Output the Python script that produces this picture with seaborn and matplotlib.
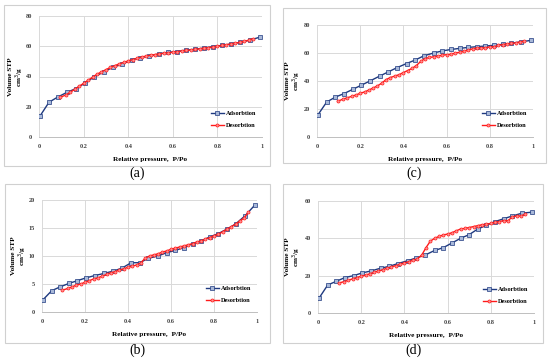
import numpy as np
import pandas as pd
import matplotlib
matplotlib.use("Agg")
import matplotlib.pyplot as plt
import seaborn as sns
from matplotlib.patches import Rectangle

# adsorption branches (same pressure grid for all samples)
p_ads = [0.005, 0.045, 0.085, 0.125, 0.165, 0.205, 0.245, 0.29, 0.33, 0.37, 0.415, 0.455,
         0.495, 0.54, 0.58, 0.62, 0.66, 0.70, 0.74, 0.78, 0.82, 0.86, 0.90, 0.945, 0.99]
ads_a = [14, 23, 26.5, 29.5, 32, 35.5, 39.5, 43, 46, 48, 51, 52.5, 53.5, 55, 56, 56.5,
         57.5, 58, 58.8, 59.8, 60.5, 61.5, 62.5, 64, 66]
ads_c = [16, 25, 28.5, 31, 34, 37, 40, 43.5, 46.5, 49.5, 52.5, 55, 58, 60, 61.5, 62.5,
         63.3, 64, 64.5, 65, 65.5, 66.2, 67, 68, 69]
ads_b = [2.2, 3.8, 4.5, 5.1, 5.6, 6.1, 6.5, 6.9, 7.3, 7.8, 8.8, 8.8, 9.6, 10, 10.6, 11,
         11.5, 12.2, 12.7, 13.4, 14, 14.8, 15.7, 17.2, 19.1]
ads_d = [8, 15, 17, 19, 20, 21.5, 22.5, 24, 25, 26.5, 28, 29.5, 31, 33.5, 35, 37.5, 40,
         42, 45, 47, 49, 50.5, 52, 53.5, 54]

# desorption branches
p_des = [0.095, 0.12, 0.14, 0.16, 0.18, 0.20, 0.22, 0.24, 0.26, 0.28, 0.30, 0.32, 0.34,
         0.36, 0.38, 0.40, 0.42, 0.44, 0.46, 0.48, 0.50, 0.52, 0.54, 0.56, 0.58, 0.60,
         0.62, 0.64, 0.66, 0.68, 0.70, 0.72, 0.74, 0.76, 0.78, 0.80, 0.82, 0.84, 0.86,
         0.88, 0.90, 0.92, 0.94, 0.96]
des_a = [26.2, 27.8, 29.5, 31.5, 33.5, 35.5, 37.5, 39.5, 41.5, 43, 44.5, 46, 47.2, 48.3,
         49.3, 50.3, 51.2, 52, 52.8, 53.5, 54, 54.5, 55, 55.3, 55.7, 56, 56.4, 56.8, 57.2,
         57.5, 57.9, 58.3, 58.7, 59.1, 59.5, 60, 60.5, 61, 61.5, 62, 62.6, 63.2, 64, 65]
des_c = [25.5, 27, 28, 29, 30, 31.2, 32.2, 33.5, 35, 36.5, 38.5, 41, 42.5, 43.5, 44.5,
         46, 47.5, 49, 51, 54, 56, 56.8, 57.3, 57.8, 58.5, 58.8, 59, 60, 60.5, 61.2, 62,
         63, 63.5, 63.5, 63.8, 64.3, 64.5, 65.5, 66, 66.5, 66.8, 67.2, 67.8, 68.5]
des_b = [3.9, 4.2, 4.5, 4.8, 5.0, 5.3, 5.6, 5.9, 6.1, 6.4, 6.7, 7.0, 7.2, 7.5, 7.7, 8.0,
         8.2, 8.4, 8.8, 9.6, 10.0, 10.2, 10.4, 10.7, 10.9, 11.2, 11.4, 11.6, 11.8, 12.0,
         12.2, 12.5, 12.7, 13.0, 13.3, 13.6, 13.9, 14.3, 14.8, 15.2, 15.7, 16.2, 16.8, 17.8]
des_d = [16, 16.8, 17.5, 18.3, 19, 19.7, 20.3, 21, 21.8, 22.5, 23.2, 24, 24.7, 25.4, 26,
         26.8, 27.5, 28.2, 29, 31, 35, 38.5, 40, 41, 41.8, 42.3, 43, 44, 45, 45.3, 45.8,
         46.3, 46.8, 47.3, 47.5, 48, 48.5, 49, 49.5, 49.5, 51.5, 52, 52, 53]

panels = {
    "(a)": (ads_a, des_a, 80, 20),
    "(c)": (ads_c, des_c, 80, 20),
    "(b)": (ads_b, des_b, 20, 5),
    "(d)": (ads_d, des_d, 60, 20),
}

W, H = 550, 362
fig = plt.figure(figsize=(5.5, 3.62), dpi=100)
plt.rcParams["font.family"] = ["Liberation Serif", "DejaVu Serif"]

# pixel boxes: axes (left, right, top, bottom), frame (left, right, top, bottom), label y, ylabel x
layout = {
    "(a)": ((39, 262, 16, 137), (4, 270, 5, 166), 173, 17),
    "(c)": ((317, 533, 25, 137), (283, 546, 8, 163), 173, 294),
    "(b)": ((42, 257, 200, 312), (5, 270, 184, 343), 350, 20),
    "(d)": ((318, 534, 201, 313), (283, 543, 184, 343), 350, 294),
}

blue = "#1f3a80"
red = "#ff1a1a"

for name, (ads, des, ymax, ystep) in panels.items():
    (l, r, t, b), (fl, fr, ft, fb), ly, yx = layout[name]
    fig.add_artist(Rectangle((fl / W, 1 - fb / H), (fr - fl) / W, (fb - ft) / H,
                             transform=fig.transFigure, fill=False,
                             edgecolor="#d0d0d0", linewidth=0.8))
    ax = fig.add_axes([l / W, 1 - b / H, (r - l) / W, (b - t) / H])
    sns.lineplot(x=p_ads, y=ads, ax=ax, color=blue, linewidth=1.0, marker="s",
                 markersize=2.4, markerfacecolor="#a8b8d8", markeredgecolor=blue,
                 markeredgewidth=0.5, label="Adsorbtion")
    sns.lineplot(x=p_des, y=des, ax=ax, color=red, linewidth=1.0, marker="o",
                 markersize=2.2, markerfacecolor="#ff9090", markeredgecolor=red,
                 markeredgewidth=0.5, label="Desorbtion")
    ax.set_xlim(0, 1)
    ax.set_ylim(0, ymax)
    ax.set_xticks(np.arange(0, 1.01, 0.2))
    ax.set_xticklabels(["0", "0.2", "0.4", "0.6", "0.8", "1"])
    ax.set_yticks(np.arange(0, ymax + 0.1, ystep))
    ax.grid(True, color="#d9d9d9", linewidth=0.7)
    ax.set_axisbelow(True)
    for s in ["top", "right", "left"]:
        ax.spines[s].set_visible(False)
    ax.spines["bottom"].set_color("#bfbfbf")
    ax.spines["bottom"].set_linewidth(0.7)
    ax.tick_params(length=0, labelsize=4.5, pad=5, colors="#404040")
    for lab in ax.get_xticklabels() + ax.get_yticklabels():
        lab.set_fontweight("bold")
    ax.set_xlabel("Relative pressure,  P/Po", fontsize=5.2, fontweight="bold", labelpad=6)
    ax.set_ylabel("Volume STP\ncm$^3$/g", fontsize=5.2, fontweight="bold",
                  linespacing=1.1, va="center")
    ax.yaxis.set_label_coords((yx - l) / (r - l), 0.5)
    ax.legend(loc="lower right", bbox_to_anchor=(1.0, 0.03), frameon=False,
              handlelength=2.0, labelspacing=1.0, handletextpad=0.4,
              prop={"weight": "bold", "size": 4.5})
    fig.text(((fl + fr) / 2) / W, 1 - ly / H, name, ha="center", va="center", fontsize=10)

fig.savefig("out.png", dpi=100)
